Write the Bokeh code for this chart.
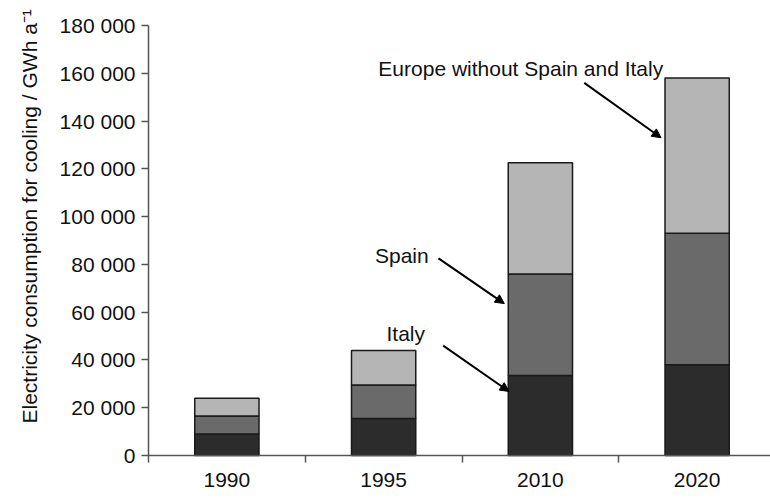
import numpy as np
from bokeh.plotting import figure
from bokeh.models import (ColumnDataSource, FixedTicker, Arrow, NormalHead, Range1d,
                          Span, Title)
from bokeh.core.properties import value
from bokeh.embed import file_html
from bokeh.resources import INLINE

years = ["1990", "1995", "2010", "2020"]
italy = [9000, 15500, 33500, 38000]
spain = [7500, 14000, 42500, 55000]
europe_rest = [7500, 14500, 46500, 65000]
series_names = ["Italy", "Spain", "Europe without Spain and Italy"]
series_colors = ["#2c2c2c", "#6a6a6a", "#b5b5b5"]

y_ticks = [0, 20000, 40000, 60000, 80000, 100000, 120000, 140000, 160000, 180000]
y_tick_labels = ["0", "20 000", "40 000", "60 000", "80 000", "100 000",
                 "120 000", "140 000", "160 000", "180 000"]
y_title = "Electricity consumption for cooling / GWh a\u207b\u00b9"

# annotation labels (text, centre x in category units, baseline y in data units)
ann_text = ["Europe without Spain and Italy", "Spain", "Italy"]
ann_x = [2.375, 1.616, 1.641]
ann_y = [162000, 83700, 51100]
# arrows (start x, start y, end x, end y)
arr_x0 = [2.78, 1.85, 1.88]
arr_y0 = [156000, 82500, 46000]
arr_x1 = [3.27, 2.27, 2.30]
arr_y1 = [133000, 63600, 26800]

FONT = "Liberation Sans"
AXIS_GREY = "#555555"

W, H = 770, 500
p = figure(width=W, height=H, output_backend="svg", toolbar_location=None,
           min_border_left=145, min_border_right=0, min_border_top=25,
           min_border_bottom=38)
p.x_range = Range1d(0, 3.968)
p.y_range = Range1d(-2930, 180000)

xc = np.arange(len(years)) + 0.5
stack = np.array([italy, spain, europe_rest], dtype=float)
tops = np.cumsum(stack, axis=0)
bottoms = tops - stack
for i in range(3):
    src = ColumnDataSource(dict(x=xc, bottom=bottoms[i], top=tops[i]))
    p.vbar(x="x", bottom="bottom", top="top", width=0.41, source=src,
           fill_color=series_colors[i], line_color="#1a1a1a", line_width=1.5)

# x-axis baseline at zero
p.add_layout(Span(location=0, dimension="width", line_color=AXIS_GREY, line_width=1.5))

p.text(x=ann_x, y=ann_y, text=ann_text, text_font=value(FONT),
       text_font_size="21px", text_color="#111111",
       text_baseline="alphabetic", text_align="center")

for x0, y0, x1, y1 in zip(arr_x0, arr_y0, arr_x1, arr_y1):
    p.add_layout(Arrow(end=NormalHead(size=9, fill_color="black", line_color="black"),
                       x_start=x0, y_start=y0, x_end=x1, y_end=y1,
                       line_width=2, line_color="black"))

# y-axis title as a side title, starting a little above the frame bottom
p.add_layout(Title(text=y_title, align="left", offset=39, standoff=31,
                   text_font=FONT, text_font_size="21px", text_font_style="normal",
                   text_color="#111111"), "left")

p.grid.visible = False
p.outline_line_color = None
p.background_fill_color = "white"
p.border_fill_color = "white"

xa = p.xaxis[0]
xa.ticker = FixedTicker(ticks=list(xc), minor_ticks=[1, 2, 3])
xa.major_label_overrides = {float(x): y for x, y in zip(xc, years)}
xa.major_tick_line_color = None
xa.major_tick_out = 0
xa.major_tick_in = 0
xa.minor_tick_out = 0
xa.minor_tick_in = 7
xa.minor_tick_line_color = AXIS_GREY
xa.minor_tick_line_width = 1.5
xa.axis_line_color = None
xa.major_label_standoff = 10
xa.major_label_text_font = FONT
xa.major_label_text_font_size = "21px"
xa.major_label_text_color = "#111111"

ya = p.yaxis[0]
ya.ticker = FixedTicker(ticks=y_ticks, minor_ticks=[])
ya.major_label_overrides = {t: l for t, l in zip(y_ticks, y_tick_labels)}
ya.major_tick_out = 7
ya.major_tick_in = 0
ya.major_tick_line_color = AXIS_GREY
ya.major_tick_line_width = 1.5
ya.axis_line_color = AXIS_GREY
ya.axis_line_width = 1.5
ya.major_label_standoff = 6
ya.major_label_text_font = FONT
ya.major_label_text_font_size = "21px"
ya.major_label_text_color = "#111111"

open("out.html", "w").write(file_html(p, INLINE))
